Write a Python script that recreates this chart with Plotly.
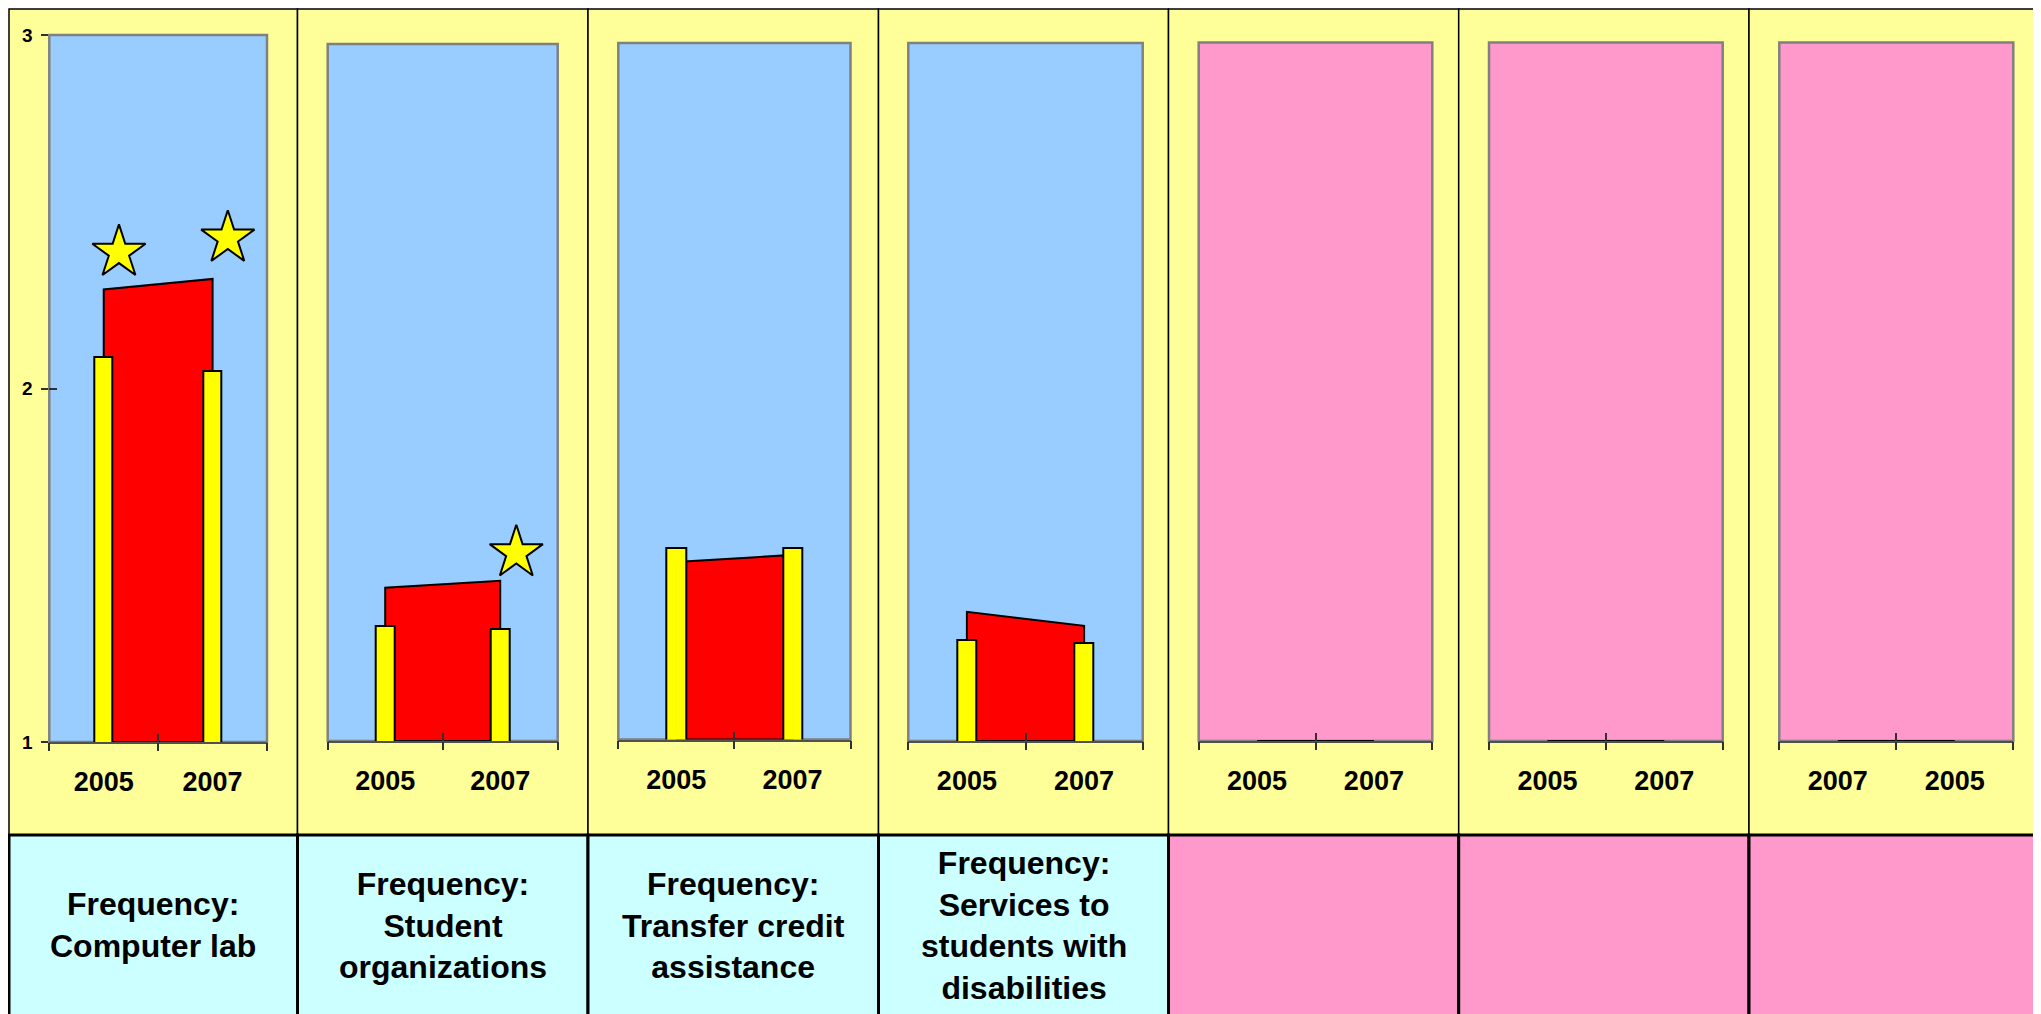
import plotly.graph_objects as go

# ---------------- data ----------------
panel_titles = [
    "Frequency:<br>Computer lab",
    "Frequency:<br>Student<br>organizations",
    "Frequency:<br>Transfer credit<br>assistance",
    "Frequency:<br>Services to<br>students with<br>disabilities",
    "",
    "",
    "",
]
year_labels = [
    ["2005", "2007"],
    ["2005", "2007"],
    ["2005", "2007"],
    ["2005", "2007"],
    ["2005", "2007"],
    ["2005", "2007"],
    ["2007", "2005"],
]
# yellow bars
bar_values = [
    [2.09, 2.05],
    [1.33, 1.32],
    [1.55, 1.55],
    [1.29, 1.28],
    [None, None],
    [None, None],
    [None, None],
]
# red area
area_values = [
    [2.28, 2.31],
    [1.44, 1.46],
    [1.51, 1.53],
    [1.37, 1.33],
    [None, None],
    [None, None],
    [None, None],
]
# significance stars
star_values = [
    [2.385, 2.425],
    [None, 1.54],
    [None, None],
    [None, None],
    [None, None],
    [None, None],
    [None, None],
]
y_ticks = [1, 2, 3]
Y_RANGE = [1, 3]

# ---------------- style / layout ----------------
W, H = 2041, 1014
PAGE_OFFSET = 8  # default page margin around the figure
FONT = "Arial, Liberation Sans, sans-serif"
PANEL_YELLOW = "#FFFF99"
PLOT_BLUE = "#99CCFF"
PINK = "#FF99CC"
CYAN = "#CCFFFF"
RED = "#FF0000"
BAR_YELLOW = "#FFFF00"
STAR_SHIFT = 0.14
NP = 7


def fx(px):
    return (px - PAGE_OFFSET) / W


def fy(py):
    return 1 - (py - PAGE_OFFSET) / H


panel_left = [9, 297.5, 588, 878.5, 1168.5, 1458.7, 1749]
panel_right = panel_left[1:] + [2060]
PANEL_TOP, PANEL_BOTTOM = 9, 835
# plot boxes: x0, x1, top, bottom (pixels in the page)
plot_boxes = [
    (49.3, 267.0, 35, 742),
    (327.7, 557.7, 44, 741),
    (618.3, 850.5, 43, 739.5),
    (908.3, 1142.7, 43, 741),
    (1198.7, 1432.3, 42.5, 741),
    (1489.0, 1722.7, 42.5, 741),
    (1779.3, 2013.3, 42.5, 741),
]
plot_fill = [PLOT_BLUE] * 4 + [PINK] * 3
cell_fill = [CYAN] * 4 + [PINK] * 3

fig = go.Figure()
shapes = []
annotations = []
layout_axes = {}

# panel backgrounds
for i in range(NP):
    shapes.append(dict(type="rect", xref="paper", yref="paper",
                       x0=fx(panel_left[i]), x1=fx(panel_right[i]),
                       y0=fy(PANEL_BOTTOM), y1=fy(PANEL_TOP),
                       fillcolor=PANEL_YELLOW, line=dict(color="black", width=1.5),
                       layer="below"))
# bottom label cells
for i in range(NP):
    shapes.append(dict(type="rect", xref="paper", yref="paper",
                       x0=fx(panel_left[i]), x1=fx(panel_right[i]),
                       y0=-0.05, y1=fy(PANEL_BOTTOM),
                       fillcolor=cell_fill[i], line=dict(color="black", width=3),
                       layer="below"))
    if panel_titles[i]:
        annotations.append(dict(xref="paper", yref="paper",
                                x=fx((panel_left[i] + panel_right[i]) / 2),
                                y=fy(925), xanchor="center", yanchor="middle",
                                text=panel_titles[i], showarrow=False, align="center",
                                font=dict(family=FONT, size=32, color="black", weight="bold")))

for i in range(NP):
    n = i + 1
    sfx = "" if n == 1 else str(n)
    osfx = str(n + NP)
    xa, ya = "x" + sfx, "y" + sfx
    oxa, oya = "x" + osfx, "y" + osfx
    cats = year_labels[i]
    xs = list(range(len(cats)))
    bounds = [k - 0.5 for k in range(len(cats) + 1)]
    x0, x1, top, bottom = plot_boxes[i]

    # red area (filled down to axis minimum) on the main subplot
    av = [v if v is not None else Y_RANGE[0] for v in area_values[i]]
    px = [xs[0]] + xs + [xs[-1], xs[0]]
    py = [Y_RANGE[0]] + av + [Y_RANGE[0], Y_RANGE[0]]
    fig.add_trace(go.Scatter(x=px, y=py, mode="lines", fill="toself", fillcolor=RED,
                             line=dict(color="black", width=2),
                             xaxis=xa, yaxis=ya, showlegend=False, hoverinfo="skip"))
    # yellow bars on overlay subplot (drawn above the area)
    fig.add_trace(go.Bar(x=xs, y=bar_values[i], width=0.165,
                         marker=dict(color=BAR_YELLOW, line=dict(color="black", width=2)),
                         xaxis=oxa, yaxis=oya, showlegend=False))
    # stars
    sx = [x + STAR_SHIFT for x, v in zip(xs, star_values[i]) if v is not None]
    sy = [v for v in star_values[i] if v is not None]
    if sy:
        fig.add_trace(go.Scatter(x=sx, y=sy, mode="markers",
                                 marker=dict(symbol="star", size=40, color=BAR_YELLOW,
                                             line=dict(color="black", width=2)),
                                 xaxis=oxa, yaxis=oya, showlegend=False, cliponaxis=False))

    # main axes: axis line + inward half of the cross ticks
    layout_axes["xaxis" + sfx] = dict(
        domain=[fx(x0), fx(x1)], range=[bounds[0], bounds[-1]], anchor=ya,
        tickmode="array", tickvals=bounds, showticklabels=False,
        ticks="inside", ticklen=8, tickcolor="#303030", tickwidth=1.5,
        showline=True, linecolor="#505050", linewidth=2,
        showgrid=False, zeroline=False, fixedrange=True, automargin=False,
    )
    layout_axes["yaxis" + sfx] = dict(
        domain=[fy(bottom), fy(top)], range=Y_RANGE, anchor=xa,
        showgrid=False, zeroline=False, showline=False, fixedrange=True, automargin=False,
        tickmode="array", tickvals=y_ticks,
        showticklabels=(i == 0), ticks="outside" if i == 0 else "",
        ticklen=7, tickcolor="#303030", tickwidth=1.5,
        tickfont=dict(family=FONT, size=19, color="black", weight="bold"),
        ticklabelstandoff=5,
    )
    # overlay axes: year labels + outward half of the cross ticks
    layout_axes["xaxis" + osfx] = dict(
        overlaying=xa, anchor=oya, side="bottom", range=[bounds[0], bounds[-1]],
        tickmode="array", tickvals=xs, ticktext=cats, ticks="",
        showline=False, showgrid=False, zeroline=False, fixedrange=True, automargin=False,
        tickfont=dict(family=FONT, size=27, color="black", weight="bold"),
        ticklabelstandoff=21,
        minor=dict(tickmode="array", tickvals=bounds, ticks="outside", ticklen=8,
                   tickcolor="#303030", tickwidth=1.5, showgrid=False),
    )
    layout_axes["yaxis" + osfx] = dict(
        overlaying=ya, anchor=oxa, side="left", range=Y_RANGE,
        tickmode="array", tickvals=y_ticks, showticklabels=False,
        ticks="inside" if i == 0 else "", ticklen=8, tickcolor="#303030", tickwidth=1.5,
        showline=False, showgrid=False, zeroline=False, fixedrange=True, automargin=False)
    # plot area background + grey frame
    shapes.append(dict(type="rect", xref=xa + " domain", yref=ya + " domain",
                       x0=0, x1=1, y0=0, y1=1, fillcolor=plot_fill[i],
                       line=dict(color="#808080", width=2.5), layer="below"))

fig.update_layout(
    width=W, height=H, autosize=False,
    margin=dict(l=0, r=0, t=0, b=0, pad=0, autoexpand=False),
    paper_bgcolor="white", plot_bgcolor="rgba(0,0,0,0)",
    shapes=shapes, annotations=annotations,
    bargap=0, showlegend=False,
    font=dict(family=FONT, color="black"),
    **layout_axes,
)

fig.write_html("out.html")
